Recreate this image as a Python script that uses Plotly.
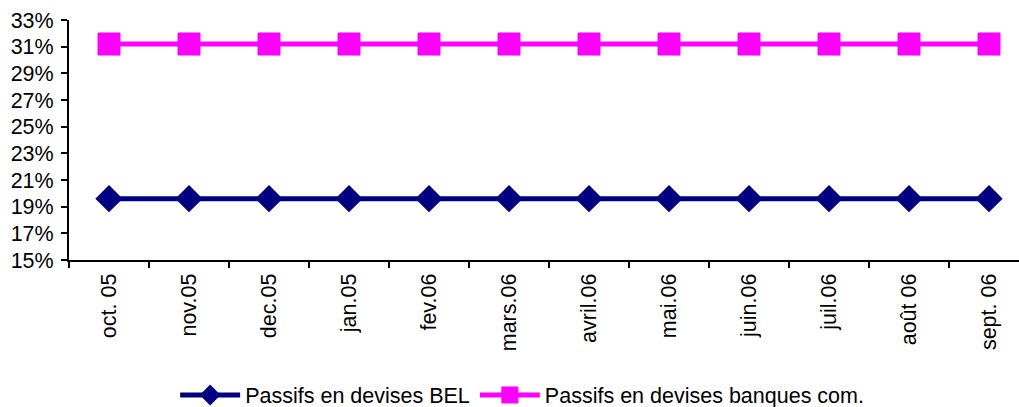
import plotly.graph_objects as go

months = ["oct. 05", "nov.05", "dec.05", "jan.05", "fev.06", "mars.06", "avril.06",
          "mai.06", "juin.06", "juil.06", "août 06", "sept. 06"]
bel = [19.6] * 12
banques = [31.2] * 12
y_ticks = [15, 17, 19, 21, 23, 25, 27, 29, 31, 33]

fig = go.Figure()
fig.add_trace(go.Scatter(
    x=months, y=bel, name="Passifs en devises BEL", mode="lines+markers",
    line=dict(color="#000080", width=5),
    marker=dict(symbol="diamond", size=21, color="#000080"),
))
fig.add_trace(go.Scatter(
    x=months, y=banques, name="Passifs en devises banques com.", mode="lines+markers",
    line=dict(color="#FF00FF", width=5),
    marker=dict(symbol="square", size=22, color="#FF00FF",
                line=dict(color="#FF00FF", width=1)),
))

fs = 21.5
font = dict(family="Liberation Sans, Arial, sans-serif", size=fs, color="black")
fig.update_layout(
    width=1019, height=407,
    margin=dict(l=69, r=0, t=20, b=147, autoexpand=False),
    paper_bgcolor="white", plot_bgcolor="white",
    font=font,
    showlegend=True,
    legend=dict(orientation="h", x=0.477, xanchor="center", y=-0.5625, yanchor="middle",
                font=dict(size=fs), itemwidth=60, tracegroupgap=0),
    xaxis=dict(type="category", range=[-0.5, 11.375], tickangle=-90, automargin=False,
               showline=True, linecolor="black", linewidth=2,
               ticks="outside", ticklen=6, tickwidth=2, tickcolor="black",
               tickson="boundaries", showgrid=False, zeroline=False,
               ticklabelstandoff=3, tickfont=dict(size=fs)),
    yaxis=dict(range=[15, 33], tickvals=y_ticks, automargin=False,
               ticktext=[f"{v}%" for v in y_ticks],
               showline=True, linecolor="black", linewidth=2,
               ticks="outside", ticklen=6, tickwidth=2, tickcolor="black",
               showgrid=False, zeroline=False, ticklabelstandoff=3,
               tickfont=dict(size=fs)),
)
fig.write_html("out.html", config={"responsive": False, "displayModeBar": False},
               post_script="document.body.style.margin='0';document.body.style.overflow='hidden';")
